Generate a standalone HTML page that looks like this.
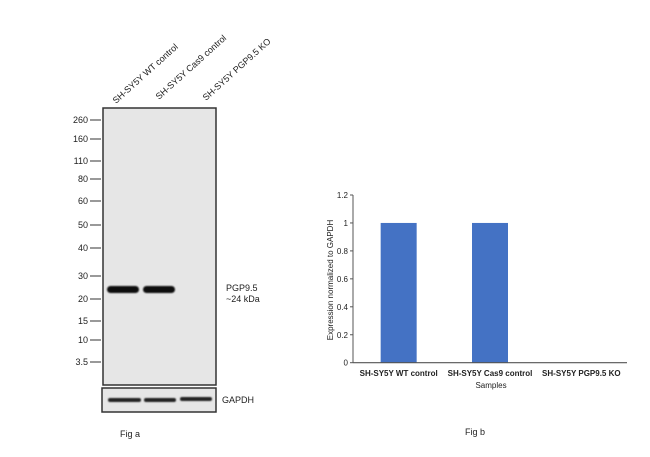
<!DOCTYPE html>
<html><head><meta charset="utf-8"><style>
body{margin:0;background:#fff;}
svg{display:block;font-family:"Liberation Sans",Arial,sans-serif;}
</style></head><body>
<svg id="fig" width="650" height="457" viewBox="0 0 650 457">
<defs><filter id="blur"><feGaussianBlur stdDeviation="0.8"/></filter></defs>
<g id="blot">
  <rect x="103" y="108" width="113" height="277" fill="#e6e6e6" stroke="#333" stroke-width="1.5"/>
  <rect x="102" y="388" width="114" height="24" fill="#e6e6e6" stroke="#333" stroke-width="1.5"/>
  <g filter="url(#blur)">
    <rect x="107" y="286" width="32" height="7" rx="3.5" fill="#111"/>
    <rect x="143" y="286" width="32" height="7" rx="3.5" fill="#111"/>
    <rect x="108" y="398" width="33" height="4" rx="2" fill="#222"/>
    <rect x="144" y="398" width="32" height="4" rx="2" fill="#222"/>
    <rect x="180" y="397" width="32" height="4" rx="2" fill="#222"/>
  </g>
  <g id="markers" font-size="9" fill="#222"></g>
  <g font-size="9" fill="#222">
    <text transform="translate(116,104) rotate(-42)">SH-SY5Y WT control</text>
    <text transform="translate(159,100) rotate(-42)">SH-SY5Y Cas9 control</text>
    <text transform="translate(206,101) rotate(-42)">SH-SY5Y PGP9.5 KO</text>
    <text x="226" y="291">PGP9.5</text>
    <text x="226" y="302">~24 kDa</text>
    <text x="222" y="403">GAPDH</text>
    <text x="120" y="437">Fig a</text>
  </g>
</g>
<g id="chart" font-size="8" fill="#222"></g>
<text x="465" y="435" font-size="9" fill="#222">Fig b</text>
</svg>
<script>
const markerLabels=["260","160","110","80","60","50","40","30","20","15","10","3.5"];
const markerY=[120,139,161,179,201,225,248,276,299,321,340,362];
const categories=["SH-SY5Y WT control","SH-SY5Y Cas9 control","SH-SY5Y PGP9.5 KO"];
const values=[1,1,0];
const yTicks=[0,0.2,0.4,0.6,0.8,1,1.2];
const NS="http://www.w3.org/2000/svg";
function mk(p,t,a){const e=document.createElementNS(NS,t);for(const k in a)e.setAttribute(k,a[k]);p.appendChild(e);return e;}
const mg=document.getElementById('markers');
markerLabels.forEach((l,i)=>{
  const t=mk(mg,'text',{x:88,y:markerY[i]+3,'text-anchor':'end'});t.textContent=l;
  
  
  const ln=mk(mg,'line',{x1:90,x2:101,y1:markerY[i],y2:markerY[i],stroke:'#333','stroke-width':1});
  
  
});
const cg=document.getElementById('chart');
const x0=353,x1=627,y0=362.7,yTop=195,yMax=1.2;
const ys=v=>y0-(v/yMax)*(y0-yTop);
const bw=(x1-x0)/categories.length;
const xc=i=>x0+bw*(i+0.5);
yTicks.forEach(v=>{
  const t=mk(cg,'text',{x:348,y:ys(v)+3,'text-anchor':'end'});t.textContent=String(v);
  
  
  const l=mk(cg,'line',{x1:350,x2:353,y1:ys(v),y2:ys(v),stroke:'#555'});
  
  
});
values.forEach((v,i)=>{
  const r=mk(cg,'rect',{x:xc(i)-18,y:ys(v),width:36,height:y0-ys(v),fill:'#4472c4'});
  
  
  const t=mk(cg,'text',{x:xc(i),y:376,'text-anchor':'middle','font-weight':'bold'});t.textContent=categories[i];
  
  
});
const ya=mk(cg,'line',{x1:353,x2:353,y1:195,y2:y0,stroke:'#555'});


const xa=mk(cg,'line',{x1:353,x2:x1,y1:y0,y2:y0,stroke:'#555','stroke-width':1.2});


const xt=mk(cg,'text',{x:491,y:388,'text-anchor':'middle'});xt.textContent='Samples';


const yt=mk(cg,'text',{transform:'translate(333,280) rotate(-90)','text-anchor':'middle'});yt.textContent='Expression normalized to GAPDH';


</script>
</body></html>
